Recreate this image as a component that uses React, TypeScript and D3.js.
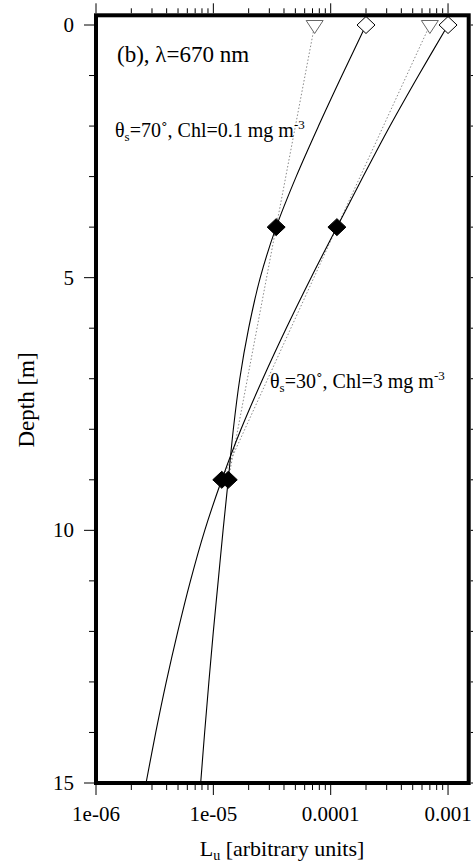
import React from "react";
import * as d3 from "d3";

// Depth profiles of upwelling radiance at 670 nm
const depths = [0, 1, 2, 3, 4, 5, 6, 7, 8, 9, 10, 11, 12, 13, 14, 15];
const luLowChl = [2.0e-4, 1.247e-4, 7.87e-5, 5.08e-5, 3.43e-5, 2.51e-5, 2.0e-5, 1.68e-5, 1.48e-5, 1.34e-5, 1.21e-5, 1.1e-5, 1.0e-5, 9.16e-6, 8.43e-6, 7.8e-6];
const luHighChl = [1.0e-3, 5.6e-4, 3.2e-4, 1.89e-4, 1.13e-4, 6.8e-5, 4.18e-5, 2.64e-5, 1.72e-5, 1.18e-5, 8.45e-6, 6.38e-6, 4.98e-6, 3.97e-6, 3.23e-6, 2.67e-6];

// Log-linear fit through the 4 m and 9 m samples, extrapolated to the surface
const fitDepths = [0, 4, 9];
const fitLowChl = [7.3e-5, 3.43e-5, 1.34e-5];
const fitHighChl = [7.0e-4, 1.13e-4, 1.18e-5];

const xTickValues = [1e-6, 1e-5, 1e-4, 1e-3];
const xTickLabels = ["1e-06", "1e-05", "0.0001", "0.001"];
const yMajorTicks = [0, 5, 10, 15];

const W = 473;
const H = 866;
const FONT = "'Liberation Serif', 'Times New Roman', serif";

export default function App() {
  const left = 96;
  const right = 468.7;
  const frameTop = 15.3;
  const frameBottom = 783;

  const x = d3.scaleLog().domain([1e-6, 1.5e-3]).range([left, right]);
  const y = d3.scaleLinear().domain([0, 15]).range([25, frameBottom]);

  const curve = d3
    .line<[number, number]>()
    .x((d) => x(d[1]))
    .y((d) => y(d[0]))
    .curve(d3.curveCatmullRom.alpha(0.5));
  const straight = d3
    .line<[number, number]>()
    .x((d) => x(d[1]))
    .y((d) => y(d[0]));

  const profLow = depths.map((d, i) => [d, luLowChl[i]] as [number, number]);
  const profHigh = depths.map((d, i) => [d, luHighChl[i]] as [number, number]);
  const fitLow = fitDepths.map((d, i) => [d, fitLowChl[i]] as [number, number]);
  const fitHigh = fitDepths.map((d, i) => [d, fitHighChl[i]] as [number, number]);

  const xTicks = x.ticks();
  const isMajor = (v: number) => Math.abs(Math.log10(v) - Math.round(Math.log10(v))) < 1e-6;
  const yTicks = d3.range(0, 16, 1);

  const diamond = (cx: number, cy: number, fill: string, key: string) => (
    <path
      key={key}
      d={`M${cx},${cy - 8.5} L${cx + 9},${cy} L${cx},${cy + 8.5} L${cx - 9},${cy} Z`}
      fill={fill}
      stroke="#000"
      strokeWidth={1}
    />
  );
  const triangle = (cx: number, cy: number, key: string) => (
    <path
      key={key}
      d={`M${cx - 8.5},${cy - 4.5} L${cx + 8.5},${cy - 4.5} L${cx},${cy + 8.5} Z`}
      fill="#fff"
      stroke="#666"
      strokeWidth={1}
    />
  );

  const outerTop = frameTop - 2;
  const outerBottom = frameBottom + 2;
  const outerLeft = left - 2;
  const outerRight = right + 2;

  return (
    <svg
      width={W}
      height={H}
      style={{ position: "absolute", left: 0, top: 0, background: "#fff" }}
      fontFamily={FONT}
    >
      <rect x={0} y={0} width={W} height={H} fill="#fff" />
      <defs>
        <clipPath id="plotArea">
          <rect x={left} y={frameTop} width={right - left} height={frameBottom - frameTop} />
        </clipPath>
      </defs>

      {/* ticks on all four sides, pointing outward */}
      <g stroke="#000" strokeWidth={1}>
        {xTicks.map((v, i) => {
          const len = isMajor(v) ? 10 : 5;
          return (
            <g key={`xt${i}`}>
              <line x1={x(v)} x2={x(v)} y1={outerTop} y2={outerTop - len} />
              <line x1={x(v)} x2={x(v)} y1={outerBottom} y2={outerBottom + len} />
            </g>
          );
        })}
        {yTicks.map((d) => {
          const len = yMajorTicks.includes(d) ? 10 : 5;
          return (
            <g key={`yt${d}`}>
              <line x1={outerLeft} x2={outerLeft - len} y1={y(d)} y2={y(d)} />
              <line x1={outerRight} x2={outerRight + len} y1={y(d)} y2={y(d)} />
            </g>
          );
        })}
      </g>

      {/* profiles */}
      <g clipPath="url(#plotArea)" fill="none">
        <path d={straight(fitLow) ?? ""} stroke="#888" strokeWidth={1} strokeDasharray="1.5,2" />
        <path d={straight(fitHigh) ?? ""} stroke="#888" strokeWidth={1} strokeDasharray="1.5,2" />
        <path d={curve(profLow) ?? ""} stroke="#000" strokeWidth={1.1} />
        <path d={curve(profHigh) ?? ""} stroke="#000" strokeWidth={1.1} />
      </g>

      {/* markers */}
      <g>
        {triangle(x(fitLowChl[0]), y(fitDepths[0]), "t1")}
        {triangle(x(fitHighChl[0]), y(fitDepths[0]), "t2")}
        {diamond(x(luLowChl[0]), y(depths[0]), "#fff", "o1")}
        {diamond(x(luHighChl[0]), y(depths[0]), "#fff", "o2")}
        {fitDepths.slice(1).map((d, i) => diamond(x(fitLowChl[i + 1]), y(d), "#000", `fl${i}`))}
        {fitDepths.slice(1).map((d, i) => diamond(x(fitHighChl[i + 1]), y(d), "#000", `fh${i}`))}
      </g>

      {/* frame */}
      <rect
        x={left}
        y={frameTop}
        width={right - left}
        height={frameBottom - frameTop}
        fill="none"
        stroke="#000"
        strokeWidth={4}
      />

      {/* tick labels */}
      <g fontSize={21} fill="#000">
        {xTickValues.map((v, i) => (
          <text key={`xl${i}`} x={x(v)} y={821} textAnchor="middle">
            {xTickLabels[i]}
          </text>
        ))}
        {yMajorTicks.map((d) => (
          <text key={`yl${d}`} x={74} y={y(d) + 7} textAnchor="end">
            {d}
          </text>
        ))}
      </g>

      {/* axis titles */}
      <text x={282} y={856} textAnchor="middle" fontSize={22}>
        L<tspan fontSize={14} dy={4}>u</tspan>
        <tspan dy={-4}> [arbitrary units]</tspan>
      </text>
      <text transform="translate(34,400) rotate(-90)" textAnchor="middle" fontSize={23}>
        Depth [m]
      </text>

      {/* annotations */}
      <text x={117} y={62} fontSize={23}>
        (b), λ=670 nm
      </text>
      <text x={115} y={136.5} fontSize={20}>
        θ<tspan fontSize={13} dy={4}>s</tspan>
        <tspan dy={-4}>=70˚, Chl=0.1 mg m</tspan>
        <tspan fontSize={13} dy={-8}>-3</tspan>
      </text>
      <text x={270} y={388} fontSize={20}>
        θ<tspan fontSize={13} dy={4}>s</tspan>
        <tspan dy={-4}>=30˚, Chl=3 mg m</tspan>
        <tspan fontSize={13} dy={-8}>-3</tspan>
      </text>
    </svg>
  );
}
